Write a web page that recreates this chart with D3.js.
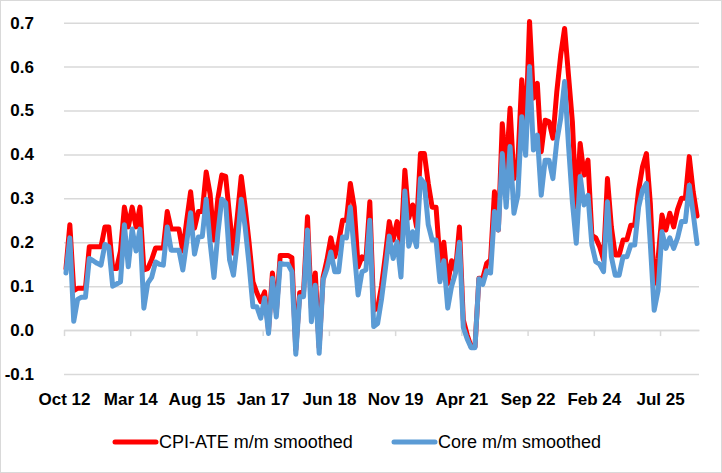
<!DOCTYPE html>
<html>
<head>
<meta charset="utf-8">
<script src="https://cdn.jsdelivr.net/npm/d3@7"></script>
<style>
  body { margin: 0; background: #fff; }
  svg { display: block; font-family: "Liberation Sans", Arial, sans-serif; }
  .ylab text, .xlab text { font-size: 17px; font-weight: bold; fill: #000; }
  .legend text { font-size: 18px; fill: #000; }
</style>
</head>
<body>
<div id="chart"></div>
<script>
// monthly, Oct 2012 onwards
var cpiAte = [
  0.14, 0.24, 0.09, 0.095, 0.095, 0.095, 0.19, 0.19, 0.19, 0.19,
  0.235, 0.235, 0.14, 0.14, 0.18, 0.28, 0.235, 0.28, 0.235, 0.28,
  0.137, 0.14, 0.16, 0.187, 0.187, 0.187, 0.27, 0.23, 0.23, 0.23,
  0.18, 0.25, 0.315, 0.232, 0.27, 0.27, 0.36, 0.31, 0.205, 0.3,
  0.353, 0.35, 0.26, 0.175, 0.26, 0.35, 0.28, 0.2, 0.11, 0.085,
  0.065, 0.087, 0.0, 0.13, 0.04, 0.17, 0.17, 0.17, 0.165, -0.045,
  0.085, 0.087, 0.258, 0.05, 0.13, -0.04, 0.12, 0.16, 0.21, 0.167,
  0.2, 0.25, 0.25, 0.334, 0.28, 0.144, 0.167, 0.16, 0.292, 0.045,
  0.05, 0.1, 0.17, 0.247, 0.205, 0.247, 0.19, 0.364, 0.255, 0.285,
  0.235, 0.402, 0.402, 0.334, 0.28, 0.28, 0.158, 0.2, 0.106, 0.158,
  0.135, 0.235, 0.023, -0.011, -0.038, -0.038, 0.118, 0.118, 0.152, 0.16,
  0.315, 0.228, 0.47, 0.364, 0.505, 0.345, 0.38, 0.57, 0.45, 0.703,
  0.528, 0.562, 0.406, 0.478, 0.475, 0.437, 0.543, 0.626, 0.687, 0.58,
  0.474, 0.28, 0.425, 0.353, 0.387, 0.216, 0.21, 0.19, 0.16, 0.345,
  0.235, 0.171, 0.171, 0.205, 0.206, 0.239, 0.239, 0.319, 0.372, 0.402,
  0.289, 0.106, 0.163, 0.262, 0.228, 0.266, 0.235, 0.275, 0.3, 0.3,
  0.395, 0.315, 0.26
];
var core = [
  0.13, 0.21, 0.02, 0.07, 0.075, 0.075, 0.163, 0.158, 0.152, 0.148,
  0.195, 0.19, 0.1, 0.105, 0.11, 0.24, 0.144, 0.23, 0.18, 0.23,
  0.05, 0.107, 0.12, 0.155, 0.15, 0.148, 0.235, 0.182, 0.182, 0.182,
  0.137, 0.2, 0.267, 0.173, 0.212, 0.213, 0.298, 0.2, 0.12, 0.22,
  0.298, 0.29, 0.16, 0.125, 0.2, 0.298, 0.235, 0.15, 0.053, 0.053,
  0.027, 0.073, -0.008, 0.118, 0.03, 0.152, 0.15, 0.15, 0.133, -0.055,
  0.076, 0.076, 0.228, 0.019, 0.102, -0.053, 0.114, 0.14, 0.178, 0.133,
  0.133, 0.212, 0.21, 0.28, 0.18, 0.08, 0.133, 0.137, 0.25, 0.008,
  0.015, 0.07, 0.14, 0.214, 0.163, 0.201, 0.121, 0.317, 0.191, 0.224,
  0.19, 0.345, 0.334, 0.24, 0.205, 0.205, 0.11, 0.158, 0.05, 0.1,
  0.13, 0.2, 0.006, -0.02, -0.04, -0.04, 0.117, 0.104, 0.135, 0.13,
  0.27, 0.228, 0.402, 0.28, 0.418, 0.266, 0.307, 0.486, 0.398, 0.6,
  0.41, 0.444, 0.307, 0.387, 0.387, 0.345, 0.43, 0.482, 0.566, 0.421,
  0.292, 0.198, 0.35, 0.285, 0.307, 0.194, 0.156, 0.15, 0.133, 0.292,
  0.167, 0.125, 0.125, 0.167, 0.167, 0.194, 0.194, 0.28, 0.319, 0.334,
  0.197, 0.045, 0.09, 0.224, 0.186, 0.21, 0.186, 0.21, 0.247, 0.247,
  0.33, 0.266, 0.197
];
var tickLabels = ["Oct 12", "Mar 14", "Aug 15", "Jan 17", "Jun 18",
                  "Nov 19", "Apr 21", "Sep 22", "Feb 24", "Jul 25"];
var tickStep = 17;   // months between labels
var yTicks = [-0.1, 0, 0.1, 0.2, 0.3, 0.4, 0.5, 0.6, 0.7];
var seriesNames = ["CPI-ATE m/m smoothed", "Core m/m smoothed"];
var colors = ["#ff0000", "#5b9bd5"];

var W = 722, H = 473;
var plotL = 64, plotR = 699, plotT = 22.7, plotB = 374;
var n = cpiAte.length;

var svg = d3.select("#chart").append("svg")
    .attr("width", W).attr("height", H);

svg.append("rect")
    .attr("x", 0.5).attr("y", 0.5)
    .attr("width", W - 1).attr("height", H - 1)
    .attr("fill", "#fff").attr("stroke", "#d9d9d9");

var x = d3.scaleLinear().domain([0, n]).range([plotL, plotR]);
var y = d3.scaleLinear().domain([-0.1, 0.7]).range([plotB, plotT]);

// gridlines
var grid = svg.append("g").attr("transform", "translate(" + plotL + ",0)")
    .call(d3.axisLeft(y).tickValues(yTicks).tickSize(-(plotR - plotL)).tickFormat(""));
grid.select(".domain").remove();
grid.selectAll("line").attr("stroke", "#d9d9d9").attr("stroke-width", 1.5);

// y labels
var ylab = svg.append("g").attr("class", "ylab")
    .attr("transform", "translate(" + plotL + ",0)")
    .call(d3.axisLeft(y).tickValues(yTicks).tickSize(0).tickPadding(30)
          .tickFormat(function (d) { return d.toFixed(1); }));
ylab.select(".domain").remove();
ylab.attr("font-family", null).attr("font-size", null);

// x axis line at zero with ticks
var tickIdx = tickLabels.map(function (d, i) { return i * tickStep; });
var xaxis = svg.append("g").attr("transform", "translate(0," + y(0) + ")")
    .call(d3.axisBottom(x).tickValues(tickIdx).tickSize(6).tickSizeOuter(0).tickFormat(""));
xaxis.selectAll("line, path").attr("stroke", "#d9d9d9").attr("stroke-width", 1.5);

// x labels at the bottom
var xlab = svg.append("g").attr("class", "xlab")
    .attr("transform", "translate(0," + plotB + ")")
    .call(d3.axisBottom(x).tickValues(tickIdx).tickSize(0).tickPadding(19)
          .tickFormat(function (d, i) { return tickLabels[i]; }));
xlab.select(".domain").remove();
xlab.attr("font-family", null).attr("font-size", null);

// lines
var line = d3.line()
    .x(function (d, i) { return x(i + 0.5); })
    .y(function (d) { return y(d); });

[cpiAte, core].forEach(function (s, k) {
    svg.append("path")
        .datum(s)
        .attr("fill", "none")
        .attr("stroke", colors[k])
        .attr("stroke-width", 5)
        .attr("stroke-linejoin", "round")
        .attr("stroke-linecap", "round")
        .attr("d", line);
});

// legend
var legX = [115, 394];
var lg = svg.append("g").attr("class", "legend");
seriesNames.forEach(function (name, k) {
    lg.append("line")
        .attr("x1", legX[k]).attr("x2", legX[k] + 41)
        .attr("y1", 442).attr("y2", 442)
        .attr("stroke", colors[k]).attr("stroke-width", 5)
        .attr("stroke-linecap", "round");
    lg.append("text")
        .attr("x", legX[k] + 44).attr("y", 442)
        .attr("dy", "0.35em")
        .text(name);
});
</script>
</body>
</html>
